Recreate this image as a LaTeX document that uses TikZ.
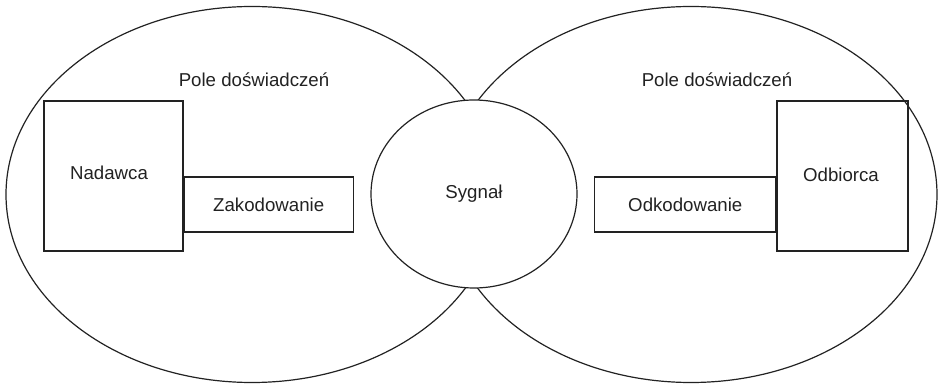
\documentclass[tikz,border=0pt]{standalone}
\usepackage{fontspec}
\setmainfont{Liberation Sans}
\usetikzlibrary{shapes.geometric}
\definecolor{ink}{HTML}{222222}
\begin{document}
\begin{tikzpicture}[x=0.75pt,y=-0.75pt,
  every node/.style={font=\fontsize{14}{16}\selectfont, text=ink},
  field/.style={ellipse, draw=ink, line width=0.9pt, inner sep=0pt},
  signal/.style={ellipse, draw=ink, fill=white, line width=0.9pt, inner sep=0pt,
    minimum width=206*0.75pt, minimum height=188*0.75pt},
  party/.style={rectangle, draw=ink, line width=0.9pt, inner sep=0pt,
    minimum width=139*0.75pt, minimum height=150*0.75pt},
  coder/.style={rectangle, draw=ink, line width=0.9pt, inner sep=0pt,
    minimum height=55*0.75pt}]
  \useasboundingbox (0,0) rectangle (940,384);
  % two overlapping fields of experience
  \node[field, minimum width=492*0.75pt, minimum height=376*0.75pt] (fieldL) at (252,194.5) {};
  \node[field, minimum width=492*0.75pt, minimum height=376*0.75pt] (fieldR) at (691,194.5) {};
  \node (poleL) at (254,80) {Pole doświadczeń};
  \node (poleR) at (717,80) {Pole doświadczeń};
  % signal in the overlap
  \node[signal] (sygnal) at (474,194) {Sygnał};
  % sender side
  \node[party] (nadawca) at (113.5,176) {};
  \node at (109,173) {Nadawca};
  \node[coder, minimum width=169*0.75pt, anchor=west] (zak) at (nadawca.east |- 0,204.5) {Zakodowanie};
  % receiver side
  \node[party, minimum width=131*0.75pt] (odbiorca) at (842.5,176) {};
  \node at (841,175) {Odbiorca};
  \node[coder, minimum width=181*0.75pt, anchor=east] (odk) at (odbiorca.west |- 0,204.5) {Odkodowanie};
\end{tikzpicture}
\end{document}
